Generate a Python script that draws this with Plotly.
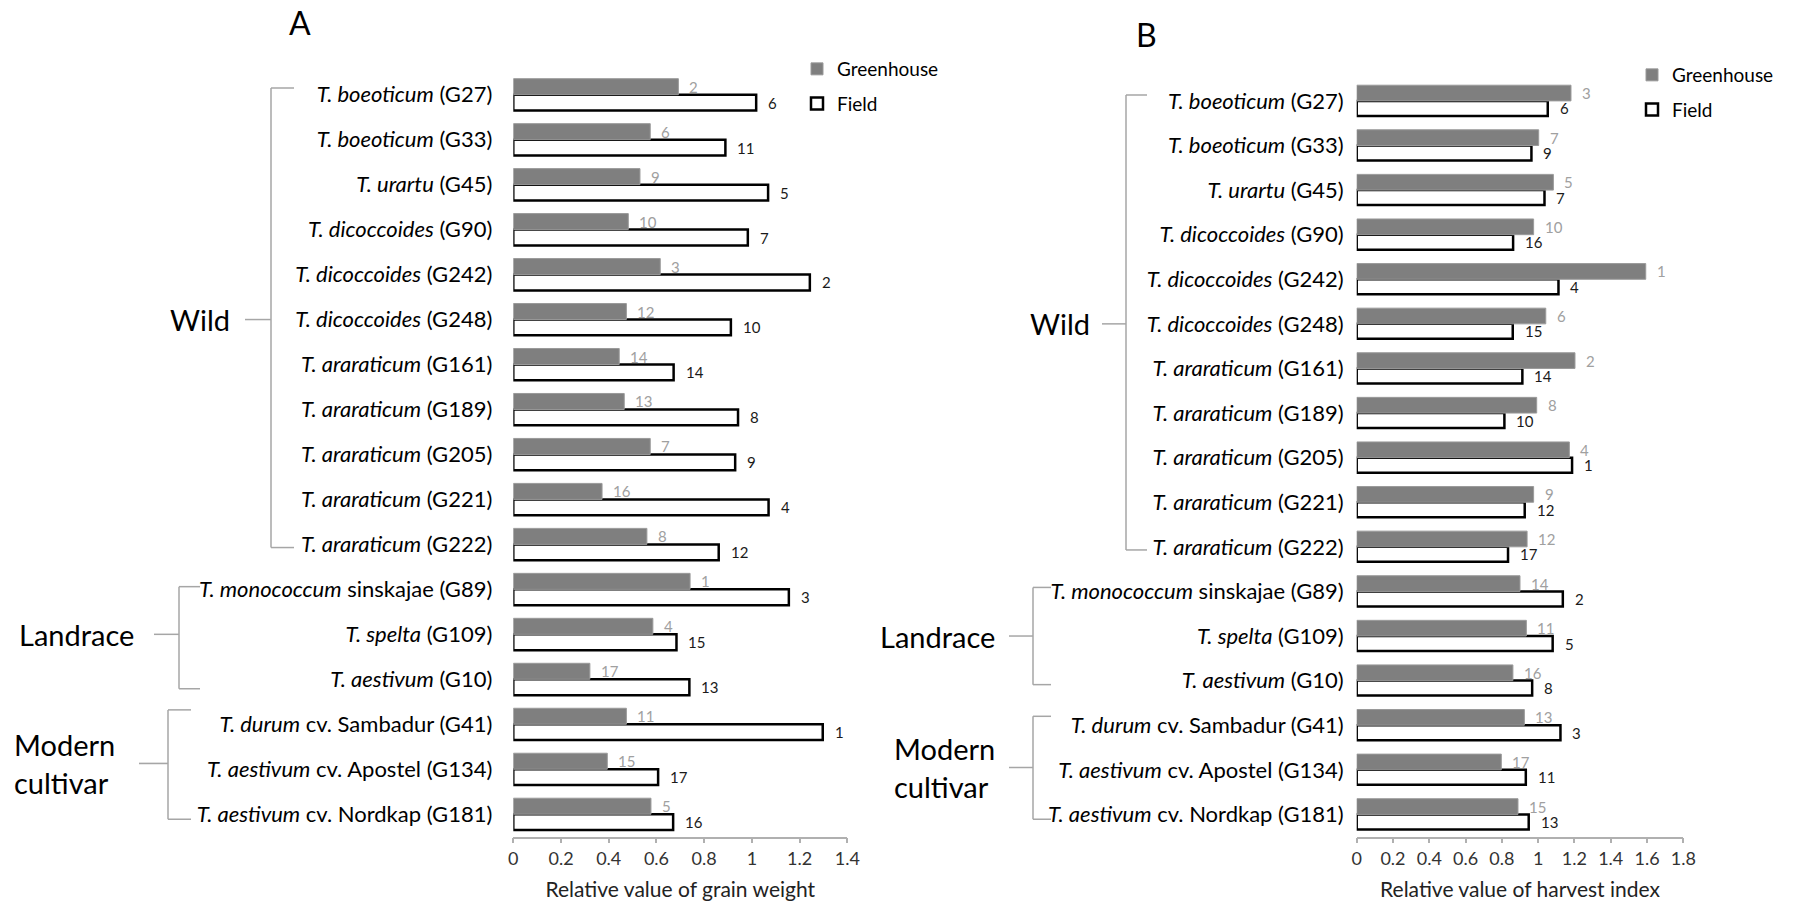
import plotly.graph_objects as go

# Accessions (top to bottom) and their label parts
codes = ["G27", "G33", "G45", "G90", "G242", "G248", "G161", "G189", "G205",
         "G221", "G222", "G89", "G109", "G10", "G41", "G134", "G181"]
species = ["T. boeoticum", "T. boeoticum", "T. urartu", "T. dicoccoides",
           "T. dicoccoides", "T. dicoccoides", "T. araraticum", "T. araraticum",
           "T. araraticum", "T. araraticum", "T. araraticum", "T. monococcum",
           "T. spelta", "T. aestivum", "T. durum", "T. aestivum", "T. aestivum"]
extra = ["", "", "", "", "", "", "", "", "", "", "", "sinskajae", "", "",
         "cv. Sambadur", "cv. Apostel", "cv. Nordkap"]

# Panel A: relative grain weight
gh_grain = [0.692, 0.574, 0.531, 0.482, 0.616, 0.474, 0.444, 0.465, 0.574,
            0.372, 0.560, 0.741, 0.585, 0.321, 0.474, 0.394, 0.577]
field_grain = [1.018, 0.889, 1.068, 0.983, 1.243, 0.912, 0.672, 0.942, 0.930,
               1.070, 0.861, 1.155, 0.684, 0.738, 1.297, 0.607, 0.670]
gh_grain_rank = [2, 6, 9, 10, 3, 12, 14, 13, 7, 16, 8, 1, 4, 17, 11, 15, 5]
field_grain_rank = [6, 11, 5, 7, 2, 10, 14, 8, 9, 4, 12, 3, 15, 13, 1, 17, 16]

# Panel B: relative harvest index
gh_hi = [1.181, 1.003, 1.084, 0.975, 1.593, 1.042, 1.203, 0.992, 1.172,
         0.975, 0.939, 0.900, 0.935, 0.861, 0.924, 0.797, 0.889]
field_hi = [1.053, 0.963, 1.035, 0.862, 1.112, 0.860, 0.913, 0.814, 1.187,
            0.926, 0.834, 1.136, 1.080, 0.967, 1.123, 0.932, 0.948]
gh_hi_rank = [3, 7, 5, 10, 1, 6, 2, 8, 4, 9, 12, 14, 11, 16, 13, 17, 15]
field_hi_rank = [6, 9, 7, 16, 4, 15, 14, 10, 1, 12, 17, 2, 5, 8, 3, 11, 13]

W, H = 1795, 906
FONT = "Lato, 'Open Sans', Arial, sans-serif"
GH_COLOR = "#7f7f7f"
BRACKET = "#a6a6a6"


def px(x):
    return x / W


def py(y):
    return 1 - y / H


labels = []
for sp, ex, cd in zip(species, extra, codes):
    mid = f" {ex}" if ex else ""
    labels.append(f"<i>{sp}</i>{mid} ({cd})")

fig = go.Figure()

panels = [
    dict(x="x", y="y", legend="legend", gh=gh_grain, fd=field_grain,
         ghr=gh_grain_rank, fdr=field_grain_rank, w_gh=0.356, w_fd=0.352),
    dict(x="x2", y="y2", legend="legend2", gh=gh_hi, fd=field_hi,
         ghr=gh_hi_rank, fdr=field_hi_rank, w_gh=0.352, w_fd=0.336),
]

for p in panels:
    # Field bars first so the greenhouse bars sit on top of their border
    fig.add_trace(go.Bar(
        y=codes, x=p["fd"], orientation="h", name="Field",
        xaxis=p["x"], yaxis=p["y"], legend=p["legend"], legendrank=2,
        legendgroup="field",
        offset=0, width=p["w_fd"],
        marker=dict(color="white", line=dict(color="black", width=2.5)),
        hoverinfo="skip",
    ))
    fig.add_trace(go.Bar(
        y=codes, x=p["gh"], orientation="h", name="Greenhouse",
        xaxis=p["x"], yaxis=p["y"], legend=p["legend"], legendrank=1,
        legendgroup="gh",
        offset=-p["w_gh"], width=p["w_gh"],
        marker=dict(color=GH_COLOR, line=dict(color="#9a9a9a", width=1)),
        hoverinfo="skip",
    ))

annotations = []
# Rank labels next to each bar
for p in panels:
    for i in range(len(codes)):
        annotations.append(dict(
            x=p["gh"][i], y=i - p["w_gh"] / 2, xref=p["x"], yref=p["y"],
            text=str(p["ghr"][i]), showarrow=False, xanchor="left",
            yanchor="middle", xshift=9,
            font=dict(family=FONT, size=15, color="#a0a0a0"),
        ))
        annotations.append(dict(
            x=p["fd"][i], y=i + p["w_fd"] / 2, xref=p["x"], yref=p["y"],
            text=str(p["fdr"][i]), showarrow=False, xanchor="left",
            yanchor="middle", xshift=10,
            font=dict(family=FONT, size=15, color="#1a1a1a"),
        ))

# Panel letters
annotations.append(dict(x=px(300), y=py(22), xref="paper", yref="paper",
                        text="A", showarrow=False, xanchor="center",
                        yanchor="middle",
                        font=dict(family=FONT, size=32, color="black")))
annotations.append(dict(x=px(1146), y=py(35), xref="paper", yref="paper",
                        text="B", showarrow=False, xanchor="center",
                        yanchor="middle",
                        font=dict(family=FONT, size=32, color="black")))

# Group brackets: (yref, vertical x, tick end x, connector start x,
#                  top, bottom, middle (category positions), label, label x, anchor)
groups = [
    ("y", 271, 294, 245, -0.15, 10.07, 5.0, "Wild", 200, "center"),
    ("y", 179, 200, 154, 10.94, 13.21, 12.0, "Landrace", 76, "center"),
    ("y", 168, 191, 139, 13.68, 16.11, 14.87, "Modern<br>cultivar", 12, "left"),
    ("y2", 1126, 1147, 1102, -0.13, 10.07, 5.0, "Wild", 1060, "center"),
    ("y2", 1033, 1051, 1009, 10.91, 13.09, 12.0, "Landrace", 938, "center"),
    ("y2", 1033, 1051, 1009, 13.8, 16.11, 14.95, "Modern<br>cultivar", 892, "left"),
]

shapes = []
line_style = dict(color=BRACKET, width=1.5)
for yref, xv, xt, xc, top, bot, mid, text, lx, anchor in groups:
    shapes.append(dict(type="line", xref="paper", yref=yref,
                       x0=px(xv), x1=px(xv), y0=top, y1=bot, line=line_style))
    shapes.append(dict(type="line", xref="paper", yref=yref,
                       x0=px(xv), x1=px(xt), y0=top, y1=top, line=line_style))
    shapes.append(dict(type="line", xref="paper", yref=yref,
                       x0=px(xv), x1=px(xt), y0=bot, y1=bot, line=line_style))
    shapes.append(dict(type="line", xref="paper", yref=yref,
                       x0=px(xc), x1=px(xv), y0=mid, y1=mid, line=line_style))
    annotations.append(dict(x=px(lx), y=mid, xref="paper", yref=yref,
                            text=text, showarrow=False, xanchor=anchor,
                            yanchor="middle", align="left",
                            font=dict(family=FONT, size=29, color="black")))

xaxis_common = dict(
    showgrid=False, zeroline=False, showline=True, linecolor="#b0b0b0",
    linewidth=1.5, ticks="outside", tickcolor="#b0b0b0", ticklen=5,
    tickwidth=1.5, dtick=0.2, tick0=0, automargin=False,
    tickfont=dict(family=FONT, size=18, color="#333333"),
)
yaxis_common = dict(
    type="category", autorange="reversed", showgrid=False, zeroline=False,
    showline=False, ticks="", tickmode="array", tickvals=codes,
    ticktext=labels, automargin=False,
    tickfont=dict(family=FONT, size=22, color="black"),
)

fig.update_layout(
    width=W, height=H,
    margin=dict(l=0, r=0, t=0, b=0),
    paper_bgcolor="white", plot_bgcolor="white",
    barmode="overlay",
    font=dict(family=FONT),
    xaxis=dict(domain=[px(513.3), px(847.3)], range=[0, 1.4], anchor="y",
               title=dict(text="Relative value of grain weight", standoff=14,
                          font=dict(family=FONT, size=21, color="#222222")),
               **xaxis_common),
    yaxis=dict(domain=[py(836.7), py(72.2)], anchor="x",
               ticklabelstandoff=20, **yaxis_common),
    xaxis2=dict(domain=[px(1356.7), px(1683.3)], range=[0, 1.8], anchor="y2",
                title=dict(text="Relative value of harvest index", standoff=14,
                           font=dict(family=FONT, size=21, color="#222222")),
                **xaxis_common),
    yaxis2=dict(domain=[py(836.7), py(78.6)], anchor="x2",
                ticklabelstandoff=12, **yaxis_common),
    legend=dict(x=px(797), y=py(50), xanchor="left", yanchor="top",
                traceorder="grouped", tracegroupgap=7,
                font=dict(family=FONT, size=19, color="black"),
                bgcolor="rgba(0,0,0,0)"),
    legend2=dict(x=px(1632), y=py(56), xanchor="left", yanchor="top",
                 traceorder="grouped", tracegroupgap=7,
                 font=dict(family=FONT, size=19, color="black"),
                 bgcolor="rgba(0,0,0,0)"),
    annotations=annotations,
    shapes=shapes,
)

fig.write_html("out.html")
